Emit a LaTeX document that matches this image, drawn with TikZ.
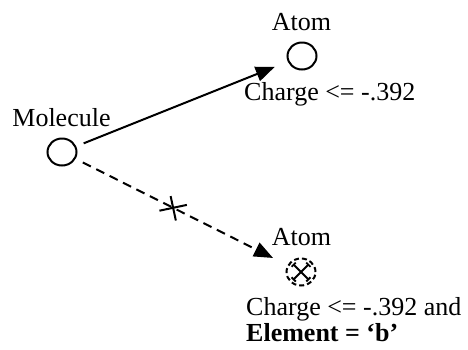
\documentclass[tikz,border=0pt]{standalone}
\usepackage{fontspec}
\setmainfont{Liberation Serif}
\usetikzlibrary{arrows.meta,calc,shapes.geometric}
\begin{document}
\begin{tikzpicture}[x=1pt,y=-1pt,
  atomc/.style={ellipse,draw,line width=2pt,minimum width=29pt,minimum height=27pt,inner sep=0pt},
  lbl/.style={font=\fontsize{26}{30}\selectfont,inner sep=0pt},
  conn/.style={line width=2pt,-{Triangle[length=19pt,width=15pt]}},
  dashconn/.style={conn,dash pattern=on 9pt off 6pt}]
\useasboundingbox (0,0) rectangle (468,349);
\node[atomc] (mol) at (62,152) {};
\node[atomc] (a1) at (302,56) {};
\node[atomc,dash pattern=on 5pt off 3pt] (a2) at (301,272) {};
\node[lbl,anchor=base] (tmol) at (61.5,126) {Molecule};
\node[lbl,anchor=base] (ta1) at (301.5,30) {Atom};
\node[lbl,anchor=base west] (c1) at (244,100) {Charge <= -.392};
\node[lbl,anchor=base] (ta2) at (301.5,245) {Atom};
\node[lbl,anchor=base west] (c2) at (246,315) {Charge <= -.392 and};
\node[lbl,anchor=base west] (c3) at (246,341) {\bfseries Element = ‘b’};
\draw[conn,shorten <=8pt,shorten >=14pt] (mol) -- (a1);
\draw[dashconn,shorten <=8pt,shorten >=16pt] (mol) -- (a2);
\coordinate (cr) at ($(mol)!0.465!(a2)$);
\draw[line width=2pt] ([shift={(-13.7,2.9)}]cr) -- ([shift={(13.7,-2.9)}]cr);
\draw[line width=2pt] ([shift={(-2.5,-11.7)}]cr) -- ([shift={(2.7,12.7)}]cr);
\draw[line width=1.8pt,{Bar[width=6pt]}-{Bar[width=6pt]}] ($(a2)+(-8,-8)$) -- ($(a2)+(8,8)$);
\draw[line width=1.8pt,{Bar[width=6pt]}-{Bar[width=6pt]}] ($(a2)+(-8,8)$) -- ($(a2)+(8,-8)$);
\end{tikzpicture}
\end{document}
